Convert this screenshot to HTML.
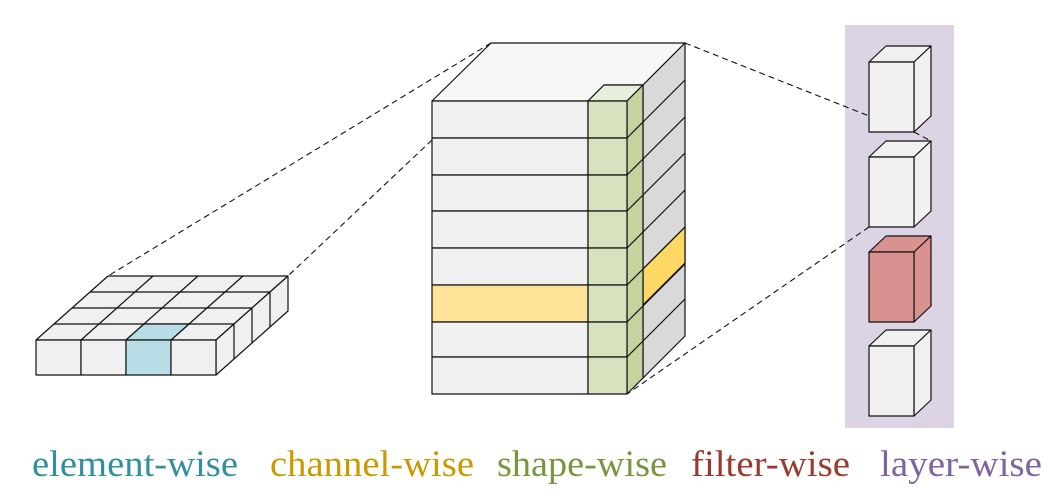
<!DOCTYPE html>
<html><head><meta charset="utf-8"><style>html,body{margin:0;padding:0;background:#fff}svg{display:block}</style></head><body>
<svg width="1062" height="499" viewBox="0 0 1062 499" xmlns="http://www.w3.org/2000/svg">
<g stroke="#111" stroke-width="1.2" stroke-linejoin="round">
<!-- left slab -->
<polygon points="36,340 108,276 288,276 216,340" fill="#f0f0f0"/>
<polygon points="216,340 288,276 288,311 216,375" fill="#f0f0f0"/>
<g fill="none">
<line x1="54" y1="324" x2="234" y2="324"/><line x1="72" y1="308" x2="252" y2="308"/><line x1="90" y1="292" x2="270" y2="292"/>
<line x1="81" y1="340" x2="153" y2="276"/><line x1="126" y1="340" x2="198" y2="276"/><line x1="171" y1="340" x2="243" y2="276"/>
<line x1="234" y1="324" x2="234" y2="359"/><line x1="252" y1="308" x2="252" y2="343"/><line x1="270" y1="292" x2="270" y2="327"/>
</g>
<polygon points="144,324 189,324 171,340 126,340" fill="#b9dde6"/>
<rect x="36" y="340" width="45" height="35" fill="#f0f0f0"/>
<rect x="81" y="340" width="45" height="35" fill="#f0f0f0"/>
<rect x="126" y="340" width="45" height="35" fill="#b9dde6"/>
<rect x="171" y="340" width="45" height="35" fill="#f0f0f0"/>
<!-- central block -->
<polygon points="432,101 491,43 685,43 643,85 604,85 588,101" fill="#f7f7f7"/>
<polygon points="643,85 685,43 685,336 643,378" fill="#d9d9d9"/>
<polygon points="643,269 685,227 685,263 643,305" fill="#fdd865"/>
<g fill="none">
<line x1="643" y1="122" x2="685" y2="80"/><line x1="643" y1="159" x2="685" y2="117"/><line x1="643" y1="195" x2="685" y2="153"/>
<line x1="643" y1="232" x2="685" y2="190"/><line x1="643" y1="269" x2="685" y2="227"/><line x1="643" y1="306" x2="685" y2="264"/>
<line x1="643" y1="341" x2="685" y2="299"/>
</g>
<polygon points="588,101 604,85 643,85 627,101" fill="#e8eedc"/>
<polygon points="627,101 643,85 643,378 627,394" fill="#c3d49f"/>
<g fill="none">
<line x1="627" y1="138" x2="643" y2="122"/><line x1="627" y1="175" x2="643" y2="159"/><line x1="627" y1="211" x2="643" y2="195"/>
<line x1="627" y1="248" x2="643" y2="232"/><line x1="627" y1="285" x2="643" y2="269"/><line x1="627" y1="322" x2="643" y2="306"/>
<line x1="627" y1="357" x2="643" y2="341"/>
</g>
<g fill="#f0f0f0">
<rect x="432" y="101" width="156" height="37"/><rect x="432" y="138" width="156" height="37"/><rect x="432" y="175" width="156" height="36"/>
<rect x="432" y="211" width="156" height="37"/><rect x="432" y="248" width="156" height="37"/>
<rect x="432" y="285" width="156" height="37" fill="#fee498"/>
<rect x="432" y="322" width="156" height="35"/><rect x="432" y="357" width="156" height="37"/>
</g>
<g fill="#d7e2bf">
<rect x="588" y="101" width="39" height="37"/><rect x="588" y="138" width="39" height="37"/><rect x="588" y="175" width="39" height="36"/>
<rect x="588" y="211" width="39" height="37"/><rect x="588" y="248" width="39" height="37"/><rect x="588" y="285" width="39" height="37"/>
<rect x="588" y="322" width="39" height="35"/><rect x="588" y="357" width="39" height="37"/>
</g>
</g>
<!-- right panel -->
<rect x="845" y="25" width="109" height="403" fill="#dcd3e4"/>
<g stroke="#111" stroke-width="1.2" stroke-linejoin="round">
<g fill="#f0f0f0">
<polygon points="869,62 886,46 931,46 914,62"/><polygon points="914,62 931,46 931,116 914,132"/><rect x="869" y="62" width="45" height="70"/>
<polygon points="869,157 886,141 931,141 914,157"/><polygon points="914,157 931,141 931,211 914,227"/><rect x="869" y="157" width="45" height="70"/>
<polygon points="869,346 886,330 931,330 914,346"/><polygon points="914,346 931,330 931,400 914,416"/><rect x="869" y="346" width="45" height="70"/>
</g>
<g fill="#d9928f">
<polygon points="869,252 886,236 931,236 914,252"/><polygon points="914,252 931,236 931,306 914,322"/><rect x="869" y="252" width="45" height="70"/>
</g>
</g>
<!-- dashed connectors -->
<g stroke="#111" stroke-width="1.1" stroke-dasharray="6,4" fill="none">
<line x1="491" y1="43" x2="108" y2="276"/>
<line x1="432" y1="140" x2="288" y2="276"/>
<line x1="685" y1="43" x2="869" y2="116"/>
<line x1="914" y1="132" x2="931" y2="141"/>
<line x1="869" y1="227" x2="627" y2="394"/>
</g>
<g font-family="'Liberation Serif', serif" font-size="37">
<text x="32" y="476" fill="#31909e" textLength="206" lengthAdjust="spacingAndGlyphs">element-wise</text>
<text x="270" y="476" fill="#c89a00" textLength="204" lengthAdjust="spacingAndGlyphs">channel-wise</text>
<text x="497" y="476" fill="#77973e" textLength="170" lengthAdjust="spacingAndGlyphs">shape-wise</text>
<text x="691" y="476" fill="#9a3a2e" textLength="159" lengthAdjust="spacingAndGlyphs">filter-wise</text>
<text x="880" y="476" fill="#8064a2" textLength="162" lengthAdjust="spacingAndGlyphs">layer-wise</text>
</g>
</svg>
</body></html>
